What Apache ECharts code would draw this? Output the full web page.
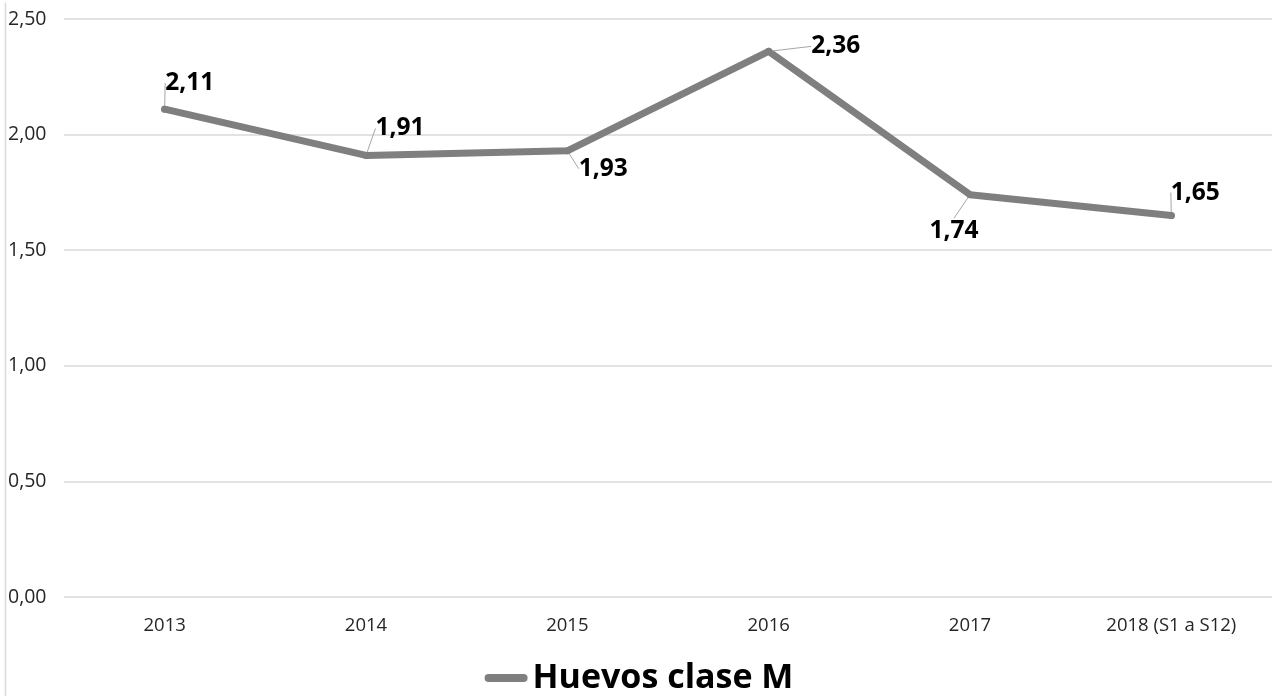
<!DOCTYPE html>
<html>
<head>
<meta charset="utf-8">
<script src="https://cdn.jsdelivr.net/npm/echarts@6/dist/echarts.min.js"></script>
<style>
html,body{margin:0;padding:0;background:#fff;}
#chart{width:1278px;height:696px;}
</style>
</head>
<body>
<div id="chart"></div>
<script>
const categories = ['2013', '2014', '2015', '2016', '2017', '2018 (S1 a S12)'];
const values = [2.11, 1.91, 1.93, 2.36, 1.74, 1.65];
const seriesName = 'Huevos clase M';
const yTicks = { min: 0, max: 2.5, interval: 0.5 };

const labelShift = [[25, -26], [34, -27], [36, 18], [67, -5], [-16, 36], [24, -23]];
const fmt = v => v.toFixed(2).replace('.', ',');

const chart = echarts.init(document.getElementById('chart'));
chart.setOption({
  animation: false,
  backgroundColor: '#fff',
  textStyle: { fontFamily: 'Open Sans' },
  grid: { left: 64, right: 6, top: 19, bottom: 99 },
  graphic: [{
    type: 'line', left: 3, top: 0,
    shape: { x1: 0, y1: 0, x2: 0, y2: 696 },
    style: { stroke: '#d9d9d9', lineWidth: 1.5 }
  }],
  legend: {
    bottom: -4, left: 'center',
    itemWidth: 43, itemHeight: 8, itemGap: 2,
    textStyle: { fontSize: 34, fontWeight: 'bold', color: '#000', fontFamily: 'Open Sans', lineHeight: 34 },
    data: [{ name: seriesName, icon: 'path://M4,0 H39 A4,4 0 0 1 39,8 H4 A4,4 0 0 1 4,0 Z', itemStyle: { color: '#7f7f7f' } }]
  },
  xAxis: {
    type: 'category', data: categories, boundaryGap: true,
    axisLine: { show: false }, axisTick: { show: false },
    axisLabel: { color: '#262626', fontSize: 18.5, margin: 19 }
  },
  yAxis: {
    type: 'value', min: yTicks.min, max: yTicks.max, interval: yTicks.interval,
    axisLine: { show: false }, axisTick: { show: false },
    splitLine: { lineStyle: { color: '#d9d9d9', width: 1.5 } },
    axisLabel: { color: '#262626', fontSize: 19.5, align: 'left', margin: 56, formatter: v => fmt(v) }
  },
  series: [{
    name: seriesName, type: 'line', data: values,
    symbol: 'circle', symbolSize: 7, showSymbol: true,
    lineStyle: { color: '#7f7f7f', width: 7, cap: 'round', join: 'round' },
    itemStyle: { color: '#7f7f7f' },
    label: {
      show: true, position: 'inside',
      fontSize: 24.5, fontWeight: 'bold', color: '#000',
      formatter: p => fmt(p.value)
    },
    labelLine: { show: true, lineStyle: { color: '#a6a6a6', width: 1 } },
    labelLayout: p => ({ dx: labelShift[p.dataIndex][0], dy: labelShift[p.dataIndex][1] })
  }]
});
</script>
</body>
</html>
